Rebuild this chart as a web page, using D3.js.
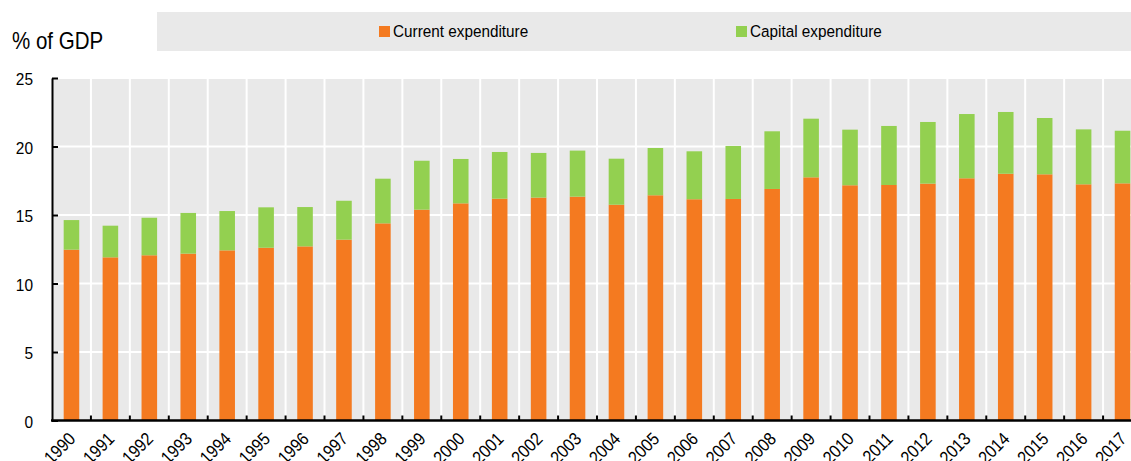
<!DOCTYPE html>
<html>
<head>
<meta charset="utf-8">
<script src="https://cdn.jsdelivr.net/npm/d3@7"></script>
<style>
  html, body { margin: 0; padding: 0; background: #fff; }
  svg { display: block; }
  text { font-family: "Liberation Sans", Arial, Helvetica, sans-serif; fill: #000; }
</style>
</head>
<body>
<svg id="chart" width="1131" height="461"></svg>
<script>
// General government expenditure, % of GDP
const years = ["1990","1991","1992","1993","1994","1995","1996","1997","1998","1999",
  "2000","2001","2002","2003","2004","2005","2006","2007","2008","2009",
  "2010","2011","2012","2013","2014","2015","2016","2017"];
const currentExp = [12.47, 11.91, 12.06, 12.18, 12.42, 12.61, 12.71, 13.20, 14.39, 15.39,
  15.85, 16.19, 16.27, 16.34, 15.75, 16.44, 16.15, 16.17, 16.90, 17.75,
  17.17, 17.19, 17.29, 17.68, 18.01, 17.97, 17.24, 17.31];
const capitalExp = [2.16, 2.31, 2.74, 2.97, 2.87, 2.95, 2.87, 2.84, 3.26, 3.57,
  3.24, 3.41, 3.26, 3.36, 3.36, 3.45, 3.50, 3.87, 4.21, 4.28,
  4.06, 4.31, 4.50, 4.69, 4.51, 4.11, 4.01, 3.84];
const yTicks = [0, 5, 10, 15, 20, 25];
const seriesNames = ["Current expenditure", "Capital expenditure"];
const seriesColors = ["#f47a20", "#93d050"];

const svg = d3.select("#chart");
const plotLeft = 52, plotRight = 1142, plotTop = 78, plotBottom = 420.5;
// condensed look for all labels
const squeeze = 0.89;

const x = d3.scaleBand().domain(years).range([plotLeft, plotRight]).paddingInner(0.6).paddingOuter(0.3);
const y = d3.scaleLinear().domain([0, 25]).range([plotBottom, plotTop]);
const gap = (x.step() - x.bandwidth()) / 2;

// plot background
svg.append("rect").attr("x", plotLeft).attr("y", plotTop)
  .attr("width", plotRight - plotLeft).attr("height", plotBottom - plotTop).attr("fill", "#e9e9e9");

// white grid: horizontal at y ticks, vertical between categories
svg.append("g").selectAll("line").data(yTicks.slice(1)).join("line")
  .attr("x1", plotLeft).attr("x2", plotRight).attr("y1", d => y(d)).attr("y2", d => y(d))
  .attr("stroke", "#fff").attr("stroke-width", 2);
svg.append("g").selectAll("line").data(years.slice(1)).join("line")
  .attr("x1", d => x(d) - gap).attr("x2", d => x(d) - gap)
  .attr("y1", plotTop).attr("y2", plotBottom)
  .attr("stroke", "#fff").attr("stroke-width", 2);

// stacked bars
const rows = years.map((yr, i) => ({ year: yr, current: currentExp[i], capital: capitalExp[i] }));
const stack = d3.stack().keys(["current", "capital"])(rows);
svg.append("g").selectAll("g").data(stack).join("g")
  .attr("fill", (d, i) => seriesColors[i])
  .selectAll("rect").data(d => d).join("rect")
  .attr("x", d => x(d.data.year))
  .attr("width", x.bandwidth())
  .attr("y", d => y(d[1]))
  .attr("height", d => y(d[0]) - y(d[1]));

// y axis with inward ticks
const yAxis = svg.append("g").attr("transform", `translate(${plotLeft},0)`)
  .call(d3.axisLeft(y).tickValues(yTicks).tickSizeInner(-6).tickSizeOuter(0).tickPadding(0));
yAxis.attr("font-family", null).attr("font-size", null);
yAxis.select(".domain").attr("stroke", "#000").attr("stroke-width", 2);
yAxis.selectAll(".tick line").attr("stroke", "#000").attr("stroke-width", 2);
yAxis.selectAll("text").attr("font-size", 16.8).attr("x", 0).attr("dy", "0.4em")
  .attr("transform", `translate(-19,0) scale(${squeeze + 0.03},1)`);

// x axis: labels at bar centres, small inward ticks between categories
const xAxis = svg.append("g").attr("transform", `translate(0,${plotBottom})`)
  .call(d3.axisBottom(x).tickSize(0).tickSizeOuter(0));
xAxis.attr("font-family", null).attr("font-size", null);
xAxis.select(".domain").remove();
xAxis.selectAll("text")
  .attr("font-size", 18)
  .attr("text-anchor", "end")
  .attr("y", 0).attr("dy", 0)
  .attr("transform", `translate(5,19.5) rotate(-45) scale(${squeeze - 0.01},1)`);
svg.append("g").selectAll("line").data(years.slice(1)).join("line")
  .attr("x1", d => x(d) - gap).attr("x2", d => x(d) - gap)
  .attr("y1", plotBottom).attr("y2", plotBottom - 5)
  .attr("stroke", "#000").attr("stroke-width", 2);
svg.append("line").attr("x1", plotLeft - 1).attr("x2", plotRight).attr("y1", plotBottom).attr("y2", plotBottom)
  .attr("stroke", "#000").attr("stroke-width", 2.5);

// unit label
svg.append("text").attr("transform", `translate(12,49) scale(${squeeze - 0.01},1)`)
  .attr("font-size", 23.3).text("% of GDP");

// legend
svg.append("rect").attr("x", 157).attr("y", 12).attr("width", 1131 - 157).attr("height", 39).attr("fill", "#e9e9e9");
const legendX = [379, 736];
const lg = svg.append("g").selectAll("g").data(seriesNames).join("g")
  .attr("transform", (d, i) => `translate(${legendX[i]},26)`);
lg.append("rect").attr("width", 11).attr("height", 11).attr("fill", (d, i) => seriesColors[i]);
lg.append("text").attr("transform", `translate(14,11.3) scale(${squeeze},1)`)
  .attr("font-size", 17.2).text(d => d);
</script>
</body>
</html>
